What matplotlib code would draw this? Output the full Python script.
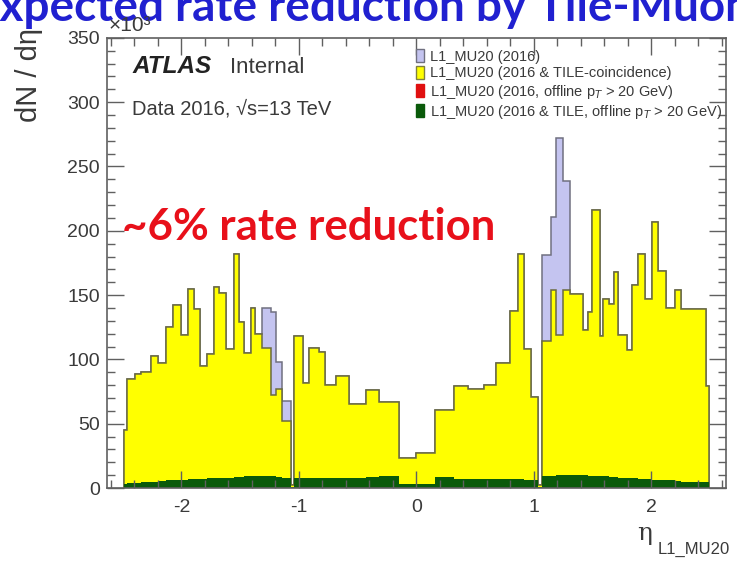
import matplotlib
matplotlib.use('Agg')
import matplotlib.pyplot as plt
from matplotlib.patches import Patch
from matplotlib.ticker import MultipleLocator

plt.rcParams['font.family'] = ['Liberation Sans', 'DejaVu Sans']

# eta bin edges of the L1_MU20 histograms
edges = [-2.49, -2.46, -2.39, -2.34, -2.26, -2.20, -2.13, -2.07, -2.00, -1.94,
         -1.89, -1.84, -1.78, -1.72, -1.68, -1.62, -1.55, -1.51, -1.47, -1.41,
         -1.37, -1.31, -1.24, -1.19, -1.14, -1.07, -1.04, -0.96, -0.91, -0.83,
         -0.78, -0.68, -0.57, -0.43, -0.32, -0.15, 0.00, 0.16, 0.32, 0.44,
         0.58, 0.68, 0.80, 0.87, 0.92, 0.98, 1.04, 1.07, 1.15, 1.19,
         1.25, 1.31, 1.42, 1.46, 1.50, 1.56, 1.59, 1.64, 1.68, 1.72,
         1.79, 1.84, 1.89, 1.95, 2.01, 2.06, 2.13, 2.20, 2.25, 2.47, 2.49]

# dN/deta in units of 10^3
mu20_all = [45, 85, 89, 90, 103, 97, 125, 142, 119, 155,
            139, 95, 104, 156, 152, 108, 182, 129, 105, 140,
            120, 140, 137, 98, 68, 2, 118, 82, 109, 106,
            80, 87, 65, 76, 67, 23, 27, 61, 79, 77,
            80, 97, 138, 182, 108, 71, 2, 181, 211, 272,
            239, 151, 123, 137, 216, 118, 147, 143, 168, 119,
            107, 158, 182, 147, 207, 169, 140, 154, 139, 79]

mu20_tile = [45, 85, 89, 90, 103, 97, 125, 142, 119, 155,
             139, 95, 104, 156, 152, 108, 182, 129, 105, 140,
             120, 109, 72, 77, 52, 2, 118, 82, 109, 106,
             80, 87, 65, 76, 67, 23, 27, 61, 79, 77,
             80, 97, 138, 182, 108, 71, 2, 114, 154, 119,
             154, 151, 123, 137, 216, 118, 147, 143, 168, 119,
             107, 158, 182, 147, 207, 169, 140, 154, 139, 79]

mu20_offline = [3, 4, 4, 5, 5, 5.5, 6, 6, 6.5, 7,
                7, 7, 7.5, 7.5, 8, 8, 8.5, 8.5, 9, 9,
                9, 9, 9, 8.5, 8, 1, 8, 8, 7.5, 7.5,
                7.5, 8, 8, 8.5, 9, 3.5, 3.5, 8.5, 7, 7,
                7, 7, 7, 7, 6.5, 6, 1, 9, 9.5, 10,
                10, 10, 10, 9.5, 9.5, 9, 9, 8.5, 8.5, 8,
                8, 7.5, 7, 7, 6.5, 6, 6, 5.5, 5, 4.5]

mu20_tile_offline = [3, 4, 4, 5, 5, 5.5, 6, 6, 6.5, 7,
                     7, 7, 7.5, 7.5, 8, 8, 8.5, 8.5, 9, 9,
                     9, 9, 9, 8.5, 8, 1, 8, 8, 7.5, 7.5,
                     7.5, 8, 8, 8.5, 9, 3.5, 3.5, 8.5, 7, 7,
                     7, 7, 7, 7, 6.5, 6, 1, 9, 9.5, 10,
                     10, 10, 10, 9.5, 9.5, 9, 9, 8.5, 8.5, 8,
                     8, 7.5, 7, 7, 6.5, 6, 6, 5.5, 5, 4.5]

labels = ['L1_MU20 (2016)',
          'L1_MU20 (2016 & TILE-coincidence)',
          'L1_MU20 (2016, offline p$_{T}$ > 20 GeV)',
          'L1_MU20 (2016 & TILE, offline p$_{T}$ > 20 GeV)']

c_all = '#c4c4f0'
c_tile = '#ffff00'
c_off = '#e01010'
c_green = '#0a5a0a'
grey = '#606060'
txt = '#3a3a3a'

fig = plt.figure(figsize=(7.37, 5.63), dpi=100)
ax = fig.add_axes([0.1448, 0.1332, 0.840, 0.7995])

ax.stairs(mu20_all, edges, baseline=0, fill=True, color=c_all)
ax.stairs(mu20_all, edges, baseline=0, color='#707080', lw=1.1)
ax.stairs(mu20_tile, edges, baseline=0, fill=True, color=c_tile)
ax.stairs(mu20_tile, edges, baseline=0, color='#6a6a40', lw=1.1)
ax.stairs(mu20_offline, edges, baseline=0, fill=True, color=c_off)
ax.stairs(mu20_tile_offline, edges, baseline=0, fill=True, color=c_green)

ax.set_xlim(-2.635, 2.635)
ax.set_ylim(0, 350)
ax.xaxis.set_major_locator(MultipleLocator(1))
ax.xaxis.set_minor_locator(MultipleLocator(0.2))
ax.yaxis.set_major_locator(MultipleLocator(50))
ax.yaxis.set_minor_locator(MultipleLocator(10))
ax.tick_params(which='both', direction='in', top=True, right=True,
               color=grey, labelcolor=txt, labelsize=14)
ax.tick_params(which='major', length=12, width=1)
ax.tick_params(which='minor', length=6, width=1)
ax.tick_params(axis='x', pad=8)
ax.tick_params(axis='y', pad=5)
for s in ax.spines.values():
    s.set_color(grey)
    s.set_linewidth(1.2)
ax.set_xticks([-2, -1, 0, 1, 2])
ax.set_xticklabels(['-2', '-1', '0', '1', '2'])

handles = [Patch(facecolor=c_all, edgecolor='#707080'),
           Patch(facecolor=c_tile, edgecolor='#808040'),
           Patch(facecolor=c_off, edgecolor=c_off),
           Patch(facecolor=c_green, edgecolor=c_green)]
ax.legend(handles, labels, loc='upper left', bbox_to_anchor=(0.50, 0.975),
          fontsize=10.5, frameon=False, handlelength=0.55, handleheight=1.0,
          handletextpad=0.4, labelspacing=0.15, borderpad=0, borderaxespad=0,
          labelcolor=txt)

ax.text(0.041, 0.922, 'ATLAS', transform=ax.transAxes, fontsize=17.5,
        fontweight='bold', style='italic', color='#222222')
ax.text(0.199, 0.922, 'Internal', transform=ax.transAxes, fontsize=16,
        color=txt)
ax.text(0.041, 0.829, 'Data 2016, \u221as=13 TeV', transform=ax.transAxes,
        fontsize=14.5, color=txt)

ax.text(0.0247, 0.551, '~6% rate reduction', transform=ax.transAxes,
        fontsize=31.5, fontweight='bold', color='#e8101a', family='Lato')

fig.text(-0.037, 0.9627, 'Expected rate reduction by Tile-Muon',
         fontsize=33, fontweight='bold', color='#2020d0', family='Lato')

fig.text(0.147, 0.945, '\u00d710\u00b3', fontsize=15, color=txt)
fig.text(0.039, 0.95, 'dN / d\u03b7', rotation=90, ha='center', va='top',
         fontsize=21, color=txt)
fig.text(0.885, 0.041, '\u03b7', ha='right', fontsize=18, color=txt,
         family='DejaVu Serif')
fig.text(0.99, 0.016, 'L1_MU20', ha='right', fontsize=12, color=txt)

fig.savefig('out.png', dpi=100)
